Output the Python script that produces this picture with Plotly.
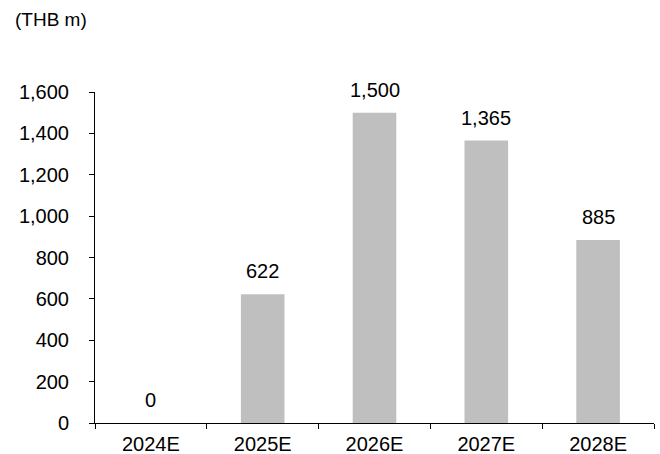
import plotly.graph_objects as go

years = ["2024E", "2025E", "2026E", "2027E", "2028E"]
values = [0, 622, 1500, 1365, 885]
value_labels = ["0", "622", "1,500", "1,365", "885"]
y_ticks = [0, 200, 400, 600, 800, 1000, 1200, 1400, 1600]

FONT = "Liberation Sans, Arial, sans-serif"
FS = 20

fig = go.Figure(
    go.Bar(
        x=years,
        y=values,
        marker=dict(color="#bfbfbf", line=dict(width=0)),
        width=0.39,
        hoverinfo="skip",
    )
)

for yr, v, lab in zip(years, values, value_labels):
    fig.add_annotation(
        x=yr, y=v, text=lab, showarrow=False,
        yanchor="bottom", yshift=10,
        font=dict(family=FONT, size=FS, color="#000000"),
    )

fig.add_annotation(
    xref="paper", yref="paper", x=-0.147, y=1.218,
    xanchor="left", yanchor="middle", showarrow=False,
    text="(THB m)", font=dict(family=FONT, size=19, color="#000000"),
)

fig.update_layout(
    width=660, height=454,
    margin=dict(l=95, r=6, t=92, b=31),
    paper_bgcolor="white", plot_bgcolor="white",
    showlegend=False,
    font=dict(family=FONT, size=FS, color="#000000"),
    xaxis=dict(
        type="category", range=[-0.5, 4.5],
        showline=True, linecolor="#000000", linewidth=1,
        ticks="outside", tickson="boundaries", ticklen=5, tickcolor="#000000",
        ticklabelstandoff=3, automargin=False,
        showgrid=False, zeroline=False,
        tickfont=dict(family=FONT, size=FS, color="#000000"),
    ),
    yaxis=dict(
        range=[0, 1600], tickvals=y_ticks, tickformat=",d",
        showline=True, linecolor="#000000", linewidth=1,
        ticks="outside", ticklen=5, tickcolor="#000000",
        ticklabelstandoff=16, automargin=False,
        showgrid=False, zeroline=False,
        tickfont=dict(family=FONT, size=FS, color="#000000"),
    ),
)

fig.write_html("out.html")
